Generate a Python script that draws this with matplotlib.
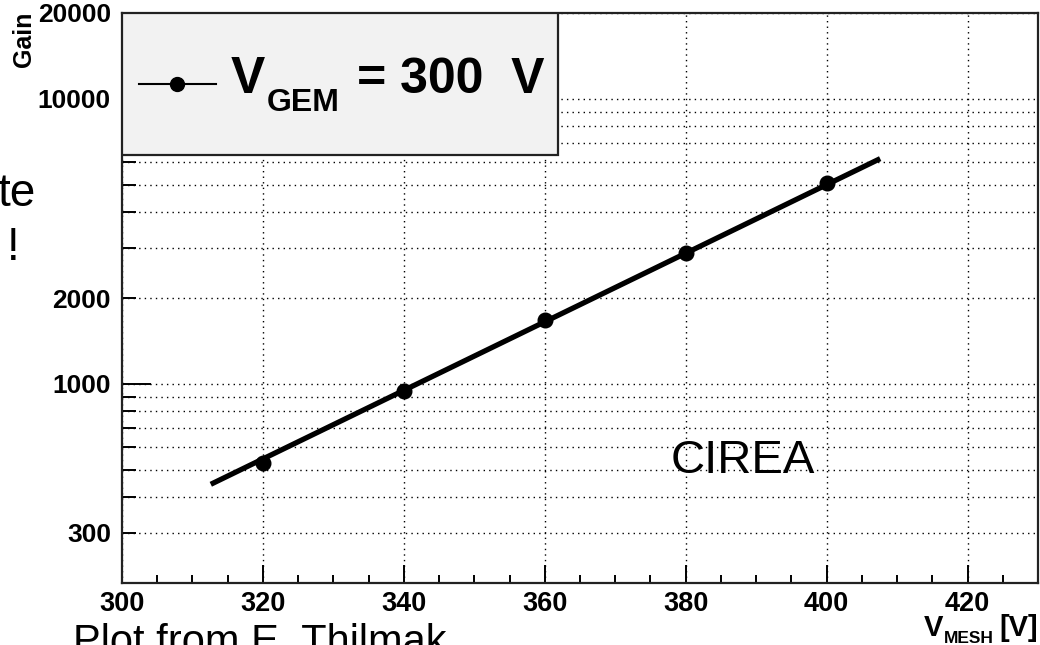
import matplotlib
matplotlib.use('Agg')
import matplotlib.pyplot as plt
from matplotlib.patches import Rectangle
from matplotlib.lines import Line2D

plt.rcParams['font.family'] = ['Liberation Sans', 'DejaVu Sans']

# data
v_mesh = [320, 340, 360, 380, 400]
gain = [529, 945, 1675, 2871, 5046]
# exponential fit drawn as a straight line on the log axis (end points)
fit_v = [312.6, 407.6]
fit_gain = [444, 6166]

y_major = [1000, 10000]
y_minor = [200, 300, 400, 500, 600, 700, 800, 900,
           2000, 3000, 4000, 5000, 6000, 7000, 8000, 9000, 20000]
y_labeled = [300, 1000, 2000, 10000, 20000]
x_major = [300, 320, 340, 360, 380, 400, 420]
x_minor = [v for v in range(300, 431, 5) if v % 20 != 0]

W, H = 1040, 645
fig = plt.figure(figsize=(W / 100, H / 100), dpi=100)
L, R, T, B = 122, 1038, 13, 583
ax = fig.add_axes([L / W, 1 - B / H, (R - L) / W, (B - T) / H])

def fx(px):
    return px / W

def fy(py):
    return 1 - py / H

def ax_x(px):
    return (px - L) / (R - L)

def ax_y(py):
    return (B - py) / (B - T)

ax.set_yscale('log')
ax.set_xlim(300, 430)
ax.set_ylim(200, 20000)

ax.plot(fit_v, fit_gain, color='black', lw=3.8, solid_capstyle='butt', zorder=4)
ax.plot(v_mesh, gain, 'o', color='black', ms=10.5, zorder=5)

# ticks
ax.set_xticks(x_major)
ax.set_xticks(x_minor, minor=True)
ax.set_xticklabels([str(v) for v in x_major])
ax.set_yticks(y_major)
ax.set_yticks(y_minor, minor=True)
ax.set_yticklabels([str(v) if v in y_labeled else '' for v in y_major])
ax.set_yticklabels([str(v) if v in y_labeled else '' for v in y_minor], minor=True)

ax.tick_params(axis='x', which='major', direction='in', length=13, width=1.4,
               labelsize=19.5, pad=6, top=False)
ax.tick_params(axis='x', which='minor', direction='in', length=5.8, width=1.4, top=False)
ax.tick_params(axis='y', which='major', direction='in', length=21, width=1.4,
               labelsize=19, pad=8, right=False)
ax.tick_params(axis='y', which='minor', direction='in', length=10, width=1.4,
               labelsize=19, pad=8, right=False)
for lab in ax.get_xticklabels() + ax.get_yticklabels() + ax.get_yticklabels(minor=True):
    lab.set_fontweight('bold')

ax.grid(True, which='major', axis='x', color='black', lw=1.0, ls=(0, (1, 3)))
ax.grid(True, which='both', axis='y', color='black', lw=1.0, ls=(0, (1, 3)))
for s in ax.spines.values():
    s.set_linewidth(1.6)
    s.set_color('#222222')

# legend box
ax.add_patch(Rectangle((0, ax_y(155)), ax_x(558), 1 - ax_y(155), transform=ax.transAxes,
                       facecolor='#f2f2f2', edgecolor='#222222', lw=1.6, zorder=6))
ax.add_line(Line2D([ax_x(139), ax_x(216)], [ax_y(84), ax_y(84)], transform=ax.transAxes,
                   color='black', lw=1.5, zorder=7))
ax.add_line(Line2D([ax_x(177)], [ax_y(84)], transform=ax.transAxes, marker='o',
                   color='black', ms=10, zorder=7))
fig.text(fx(231), fy(93), 'V', fontsize=37, fontweight='bold', va='baseline', zorder=8)
fig.text(fx(267), fy(111), 'GEM', fontsize=23, fontweight='bold', va='baseline', zorder=8)
fig.text(fx(357), fy(93), '= 300  V', fontsize=36, fontweight='bold', va='baseline', zorder=8)

# axis titles
fig.text(fx(24), fy(12), 'Gain', fontsize=18, fontweight='bold', rotation=90,
         ha='center', va='top')
fig.text(fx(924), fy(636), 'V', fontsize=21, fontweight='bold', va='baseline')
fig.text(fx(944), fy(643), 'MESH', fontsize=12.5, fontweight='bold', va='baseline')
fig.text(fx(1038), fy(636), '[V]', fontsize=21, fontweight='bold', va='baseline', ha='right')

fig.text(fx(671), fy(473), 'CIREA', fontsize=34, va='baseline')

# bits of the slide behind the plot
fig.text(fx(36), fy(206), 'te', fontsize=33, va='baseline', ha='right')
fig.text(fx(13), fy(260), '!', fontsize=33, va='baseline', ha='center')
fig.text(fx(73), fy(654), 'Plot from E. Thilmak', fontsize=30, va='baseline')

fig.savefig('out.png', dpi=100)
